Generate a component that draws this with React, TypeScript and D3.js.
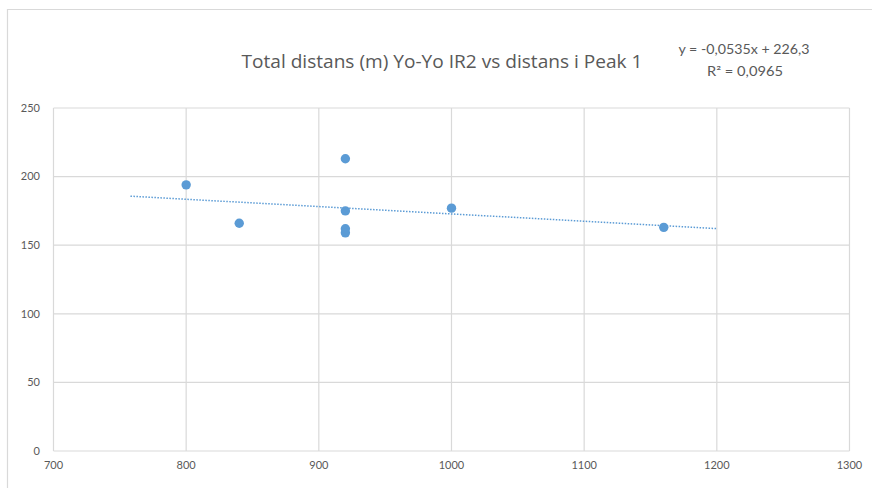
import React, { useEffect, useRef } from "react";
import * as d3 from "d3";

const xValues = [800, 840, 920, 920, 920, 920, 1000, 1160];
const yValues = [194, 166, 213, 175, 162, 159, 177, 163];
const xTicks = [700, 800, 900, 1000, 1100, 1200, 1300];
const yTicks = [0, 50, 100, 150, 200, 250];
const trendSlope = -0.0535;
const trendIntercept = 226.3;
const trendRange = [758, 1200];
const titleText = "Total distans (m) Yo-Yo IR2 vs distans i Peak 1";
const equationText = "y = -0,0535x + 226,3";
const r2Text = "R² = 0,0965";

export default function App() {
  const ref = useRef<SVGSVGElement>(null);
  useEffect(() => {
    const svg = d3.select(ref.current);
    svg.selectAll("*").remove();
    const W = 872, H = 488;
    const left = 53.5, right = 849.5, top = 108, bottom = 451;
    const font = "Lato, 'Open Sans', sans-serif";
    const textColor = "#595959";

    svg.append("rect").attr("width", W).attr("height", H).attr("fill", "#fff");
    // chart border (clipped right/bottom)
    svg.append("path")
      .attr("d", `M7.5,${H + 2} V9.5 H${W + 2}`)
      .attr("fill", "none").attr("stroke", "#d9d9d9").attr("stroke-width", 1.2);

    const x = d3.scaleLinear().domain([700, 1300]).range([left, right]);
    const y = d3.scaleLinear().domain([0, 250]).range([bottom, top]);

    const g = svg.append("g");
    g.selectAll(".vg").data(xTicks).enter().append("line")
      .attr("x1", d => x(d)).attr("x2", d => x(d))
      .attr("y1", top).attr("y2", bottom)
      .attr("stroke", "#d9d9d9").attr("stroke-width", 1.2);
    g.selectAll(".hg").data(yTicks).enter().append("line")
      .attr("x1", left).attr("x2", right)
      .attr("y1", d => y(d)).attr("y2", d => y(d))
      .attr("stroke", "#d9d9d9").attr("stroke-width", 1.2);

    g.selectAll(".yl").data(yTicks).enter().append("text")
      .attr("x", 40).attr("y", d => y(d)).attr("dy", "0.35em")
      .attr("text-anchor", "end").attr("font-family", font).attr("font-size", 11)
      .attr("fill", textColor).text(d => d);
    g.selectAll(".xl").data(xTicks).enter().append("text")
      .attr("x", d => x(d)).attr("y", 469)
      .attr("text-anchor", "middle").attr("font-family", font).attr("font-size", 11)
      .attr("fill", textColor).text(d => d);

    const line = d3.line<number>().x(d => x(d)).y(d => y(trendSlope * d + trendIntercept));
    g.append("path").datum(trendRange).attr("d", line)
      .attr("fill", "none").attr("stroke", "#5B9BD5").attr("stroke-width", 1.5)
      .attr("stroke-dasharray", "1.5 1.5");

    g.selectAll(".pt").data(xValues.map((v, i) => [v, yValues[i]])).enter().append("circle")
      .attr("cx", d => x(d[0])).attr("cy", d => y(d[1])).attr("r", 4.7)
      .attr("fill", "#5B9BD5");

    svg.append("text").attr("x", 442).attr("y", 68).attr("text-anchor", "middle")
      .attr("font-family", "'Open Sans', sans-serif").attr("font-size", 18)
      .attr("textLength", 401).attr("lengthAdjust", "spacingAndGlyphs")
      .attr("fill", textColor).text(titleText);
    svg.append("text").attr("x", 744).attr("y", 54).attr("text-anchor", "middle")
      .attr("font-family", font).attr("font-size", 12.5)
      .attr("textLength", 131).attr("lengthAdjust", "spacingAndGlyphs")
      .attr("fill", textColor).text(equationText);
    svg.append("text").attr("x", 745).attr("y", 76).attr("text-anchor", "middle")
      .attr("font-family", font).attr("font-size", 12.5)
      .attr("textLength", 76).attr("lengthAdjust", "spacingAndGlyphs")
      .attr("fill", textColor).text(r2Text);
  }, []);
  return (
    <svg ref={ref} width={872} height={488}
      style={{ position: "absolute", left: 0, top: 0, display: "block" }} />
  );
}
